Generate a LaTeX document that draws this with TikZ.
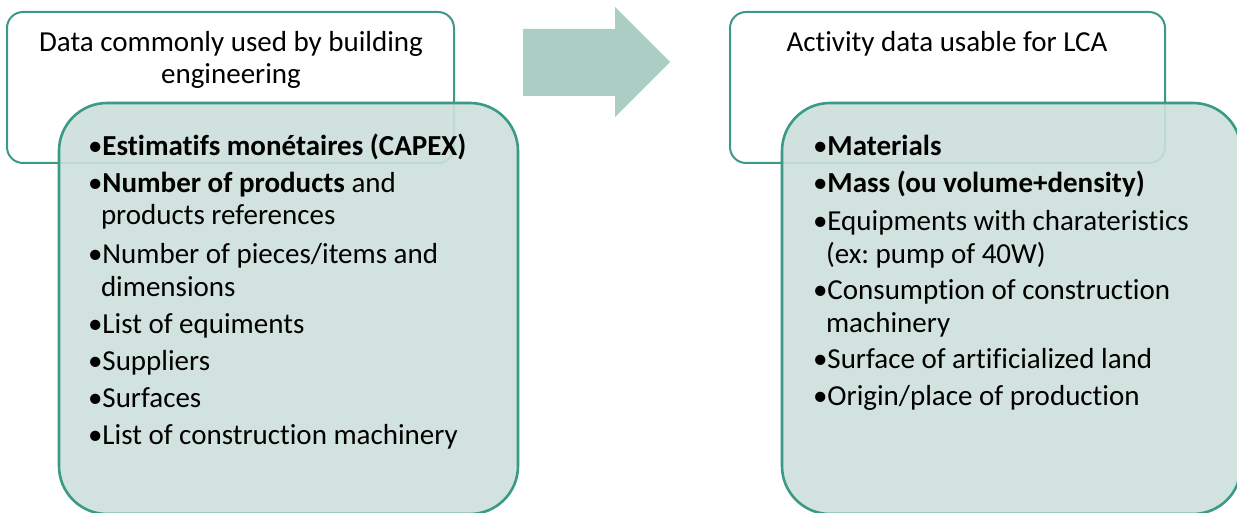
\documentclass[tikz,border=0pt]{standalone}
\usepackage{fontspec}
\setmainfont[Ligatures=NoCommon]{Carlito}
\frenchspacing
\definecolor{edge}{HTML}{3A9A86}
\definecolor{listfill}{HTML}{CDDFDB}
\definecolor{arrowfill}{HTML}{ABCEC4}
\begin{document}
\begin{tikzpicture}[x=1pt,y=-1pt,
  every node/.style={inner sep=0pt, outer sep=0pt},
  headbox/.style={draw=edge, line width=2pt, rounded corners=16pt, fill=white,
                  minimum width=#1, minimum height=151pt},
  listbox/.style={draw=edge, line width=2.6pt, rounded corners=48pt, fill=listfill,
                  fill opacity=0.9, minimum width=459pt, minimum height=411pt},
  headtext/.style={anchor=base, align=center, font=\fontsize{29}{32}\selectfont},
  item/.style={anchor=base west, align=left, font=\fontsize{29}{32.5}\selectfont\frenchspacing}
]
\useasboundingbox (0,0) rectangle (1237,513);
\clip (0,0) rectangle (1237,513);

% left pair of boxes
\node[headbox=447pt] (hl) at (230.5,87.5) {};
\node[listbox] (ll) at (288.5,308.5) {};
% right pair of boxes
\node[headbox=435pt] (hr) at (947.5,87.5) {};
\node[listbox] (lr) at (1011.5,308.5) {};

% block arrow between the two groups
\fill[arrowfill] (523,29) -- (615,29) -- (615,7) -- (670,62) -- (615,117)
  -- (615,96) -- (523,96) -- cycle;

% headings (multi-line nodes sit on the baseline of their last line)
\node[headtext] (tl) at (231,84) {Data commonly used by building\\engineering};
\node[headtext] (tr) at (947,52) {Activity data usable for LCA};

% left list
\node[item] (l1) at (88,156) {•\textbf{Estimatifs monétaires (CAPEX)}};
\node[item] (l2) at (88,225) {•\textbf{Number of products} and\\\hspace*{13pt}products references};
\node[item] (l3) at (88,296) {•Number of pieces/items and\\\hspace*{13pt}dimensions};
\node[item] (l4) at (88,333) {•List of equiments};
\node[item] (l5) at (88,370) {•Suppliers};
\node[item] (l6) at (88,407) {•Surfaces};
\node[item] (l7) at (88,444) {•List of construction machinery};

% right list
\node[item] (r1) at (813,156) {•\textbf{Materials}};
\node[item] (r2) at (813,193) {•\textbf{Mass (ou volume+density)}};
\node[item] (r3) at (813,263) {•Equipments with charateristics\\\hspace*{13pt}(ex: pump of 40W)};
\node[item] (r4) at (813,332) {•Consumption of construction\\\hspace*{13pt}machinery};
\node[item] (r5) at (813,368) {•Surface of artificialized land};
\node[item] (r6) at (813,405) {•Origin/place of production};
\end{tikzpicture}
\end{document}
